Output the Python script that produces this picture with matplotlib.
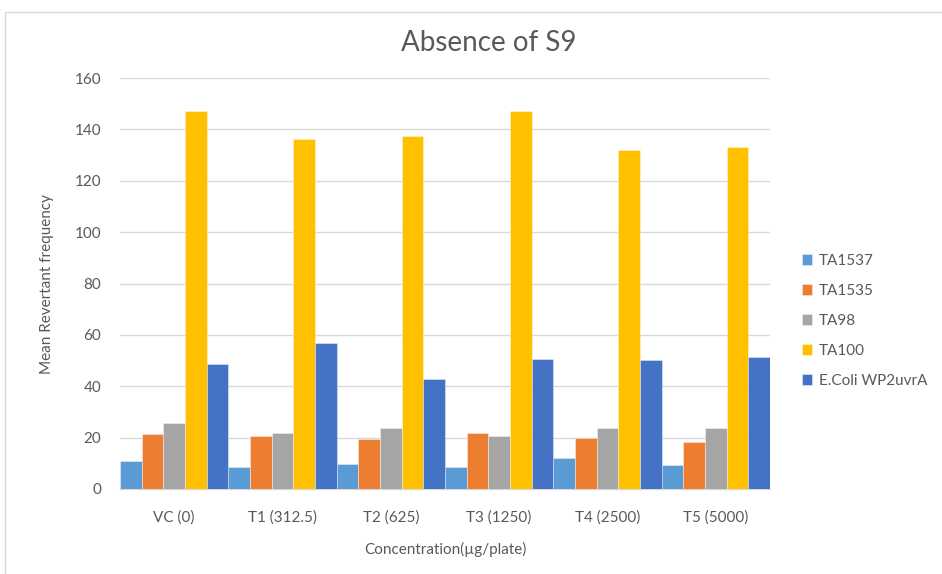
import matplotlib
matplotlib.use("Agg")
import matplotlib.pyplot as plt
from matplotlib.patches import Rectangle
import numpy as np

plt.rcParams['font.family'] = ['Lato', 'DejaVu Sans']

categories = ["VC (0)", "T1 (312.5)", "T2 (625)", "T3 (1250)", "T4 (2500)", "T5 (5000)"]
series_names = ["TA1537", "TA1535", "TA98", "TA100", "E.Coli WP2uvrA"]
ta1537 = [10.9, 8.5, 9.7, 8.5, 12.1, 9.2]
ta1535 = [21.6, 20.5, 19.6, 21.9, 19.9, 18.3]
ta98 = [25.8, 21.8, 23.8, 20.8, 23.8, 23.8]
ta100 = [147.2, 136.2, 137.5, 147.2, 131.9, 133.1]
ecoli = [48.7, 56.8, 42.9, 50.6, 50.2, 51.5]
series_values = [ta1537, ta1535, ta98, ta100, ecoli]
colors = ["#5B9BD5", "#ED7D31", "#A5A5A5", "#FFC000", "#4472C4"]
y_ticks = [0, 20, 40, 60, 80, 100, 120, 140, 160]

W, H = 942, 574
fig = plt.figure(figsize=(W / 100, H / 100), dpi=100)
fig.patch.set_facecolor("white")

# outer chart frame
fig.patches.append(Rectangle((5 / W, -0.02), 1.1, (574 - 12) / H + 0.02,
                             transform=fig.transFigure, facecolor="none",
                             edgecolor="#d9d9d9", linewidth=1.0))

ax = fig.add_axes([120 / W, 1 - 489 / H, 650 / W, 411 / H])
x = np.arange(len(categories))
n = len(series_names)
bw = 1.0 / n
for j, (name, vals, c) in enumerate(zip(series_names, series_values, colors)):
    ax.bar(x + (j - (n - 1) / 2) * bw, vals, width=bw, color=c, label=name,
           edgecolor=(1, 1, 1, 0.45), linewidth=0.6, zorder=3)

ax.set_xlim(-0.5, len(categories) - 0.5)
ax.set_ylim(0, 160)
ax.set_yticks(y_ticks)
ax.set_yticklabels([str(v) for v in y_ticks])
ax.set_xticks(x)
ax.set_xticklabels(categories)
ax.grid(axis="y", color="#d9d9d9", linewidth=1.0, zorder=0)
ax.set_axisbelow(True)
for s in ["top", "right", "left"]:
    ax.spines[s].set_visible(False)
ax.spines["bottom"].set_color("#d9d9d9")
ax.spines["bottom"].set_linewidth(1.0)
ax.tick_params(axis="both", length=0, colors="#595959", labelsize=11)
ax.tick_params(axis="y", pad=13.5)
ax.tick_params(axis="x", pad=15.5)

ax.set_xlabel("Concentration(µg/plate)", fontsize=11, color="#595959", labelpad=12)
ax.set_ylabel("Mean Revertant frequency", fontsize=11, color="#595959", labelpad=15)

fig.text(489 / W, 1 - 43 / H, "Absence of S9", ha="center", va="center",
         fontsize=20, color="#595959")

leg = ax.legend(loc="center left", bbox_to_anchor=(788 / W, 1 - 321 / H),
                bbox_transform=fig.transFigure, frameon=False, fontsize=11,
                handlelength=0.7, handleheight=0.7, handletextpad=0.4,
                labelspacing=1.05, labelcolor="#595959")

fig.savefig("out.png", dpi=100)
